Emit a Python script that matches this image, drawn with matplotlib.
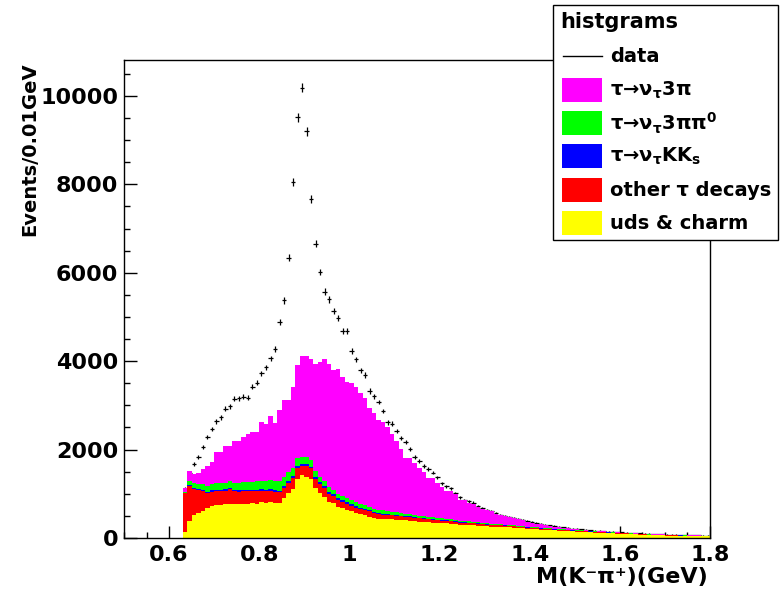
import numpy as np
import matplotlib
matplotlib.use("Agg")
import matplotlib.pyplot as plt
from matplotlib.patches import Rectangle
from matplotlib.lines import Line2D
from matplotlib.ticker import MultipleLocator, FuncFormatter

# bins of 0.01 GeV starting at 0.63 GeV (one row = 10 bins)
bin_lo = 0.63
bin_w = 0.01

data = [
    1110, 1480, 1674, 1839, 2058, 2278, 2459, 2640, 2730, 2925,
    2979, 3151, 3160, 3196, 3174, 3422, 3513, 3726, 3861, 4065,
    4282, 4879, 5377, 6340, 8060, 9516, 10186, 9199, 7661, 6657,
    6017, 5572, 5400, 5142, 4970, 4690, 4690, 4237, 4042, 3793,
    3687, 3325, 3205, 3076, 2873, 2617, 2585, 2420, 2262, 2165,
    2013, 1832, 1749, 1629, 1561, 1478, 1373, 1237, 1170, 1124,
    1020, 921, 860, 830, 800, 724, 680, 640, 611, 570,
    530, 500, 482, 455, 430, 400, 380, 355, 338, 320,
    300, 288, 270, 255, 242, 225, 214, 204, 194, 183,
    174, 168, 162, 155, 147, 140, 132, 125, 119, 113,
    108, 103, 98, 93, 89, 85, 82, 79, 76, 73,
    70, 67, 64, 61, 58, 55, 52,
]

uds_charm = [
    140, 390, 510, 560, 610, 680, 720, 740, 750, 760,
    780, 770, 760, 780, 780, 790, 780, 810, 800, 820,
    800, 800, 900, 1010, 1100, 1330, 1425, 1390, 1330, 1120,
    1010, 935, 820, 785, 710, 670, 635, 600, 560, 535,
    520, 485, 450, 430, 430, 420, 420, 410, 405, 400,
    395, 380, 370, 365, 360, 350, 340, 335, 330, 320,
    315, 300, 295, 290, 285, 280, 270, 265, 260, 255,
    250, 245, 240, 235, 225, 215, 210, 205, 198, 190,
    183, 176, 170, 165, 160, 155, 150, 145, 140, 135,
    128, 124, 120, 115, 110, 106, 100, 95, 90, 85,
    80, 75, 70, 66, 63, 60, 57, 54, 52, 50,
    48, 46, 44, 42, 40, 39, 38,
]

other_tau = [
    870, 790, 590, 520, 450, 330, 330, 320, 310, 310,
    320, 290, 290, 280, 280, 270, 280, 260, 260, 245,
    245, 230, 235, 240, 250, 260, 205, 250, 245, 225,
    210, 195, 180, 170, 160, 150, 145, 135, 130, 125,
    120, 115, 110, 105, 100, 95, 90, 88, 85, 80,
    78, 75, 72, 70, 68, 65, 62, 60, 57, 55,
    52, 50, 48, 46, 44, 42, 40, 38, 36, 35,
    33, 32, 30, 29, 28, 27, 26, 25, 24, 23,
    22, 21, 20, 19, 19, 18, 18, 17, 17, 16,
    16, 15, 15, 14, 14, 13, 13, 12, 12, 12,
    11, 11, 11, 10, 10, 10, 9, 9, 9, 8,
    8, 8, 8, 7, 7, 7, 7,
]

tau_kks = [
    10, 30, 35, 35, 35, 35, 35, 35, 35, 35,
    35, 35, 35, 35, 35, 35, 35, 35, 35, 38,
    38, 40, 40, 40, 42, 45, 45, 45, 42, 40,
    38, 36, 34, 32, 30, 29, 28, 27, 26, 25,
    24, 23, 22, 21, 20, 19, 18, 17, 16, 15,
    15, 14, 14, 13, 13, 12, 12, 11, 11, 10,
    10, 10, 9, 9, 9, 8, 8, 8, 8, 7,
    7, 7, 7, 6, 6, 6, 6, 6, 5, 5,
    5, 5, 5, 5, 4, 4, 4, 4, 4, 4,
    4, 3, 3, 3, 3, 3, 3, 3, 3, 3,
    3, 2, 2, 2, 2, 2, 2, 2, 2, 2,
    2, 2, 1, 1, 1, 1, 1,
]

tau_3pipi0 = [
    20, 90, 110, 115, 120, 130, 135, 140, 145, 150,
    155, 160, 165, 170, 175, 180, 185, 190, 195, 200,
    205, 210, 205, 195, 185, 170, 150, 150, 140, 130,
    125, 120, 113, 110, 105, 100, 98, 95, 93, 90,
    88, 85, 82, 80, 76, 72, 68, 65, 62, 58,
    55, 52, 50, 48, 45, 43, 41, 39, 37, 35,
    33, 32, 30, 29, 28, 27, 26, 25, 24, 23,
    22, 21, 20, 19, 18, 17, 16, 15, 14, 14,
    13, 13, 12, 12, 11, 11, 10, 10, 9, 9,
    8, 8, 8, 7, 7, 7, 6, 6, 6, 5,
    5, 5, 5, 4, 4, 4, 4, 4, 3, 3,
    3, 3, 3, 3, 2, 2, 2,
]

tau_3pi = [
    84, 216, 203, 248, 353, 454, 499, 710, 705, 819,
    784, 932, 937, 1027, 1075, 1123, 1118, 1322, 1295, 1463,
    1320, 1615, 1742, 1637, 1831, 2108, 2298, 2288, 2285, 2428,
    2598, 2770, 2782, 2703, 2811, 2693, 2630, 2642, 2599, 2498,
    2408, 2226, 2157, 2033, 1991, 1912, 1749, 1614, 1445, 1263,
    1259, 1183, 1085, 1004, 864, 880, 782, 716, 636, 651,
    585, 468, 478, 426, 404, 353, 316, 297, 272, 220,
    208, 185, 171, 156, 143, 135, 112, 89, 84, 78,
    67, 64, 53, 44, 41, 27, 23, 20, 15, 11,
    12, 13, 12, 11, 9, 7, 6, 5, 5, 5,
    6, 7, 7, 8, 7, 7, 8, 9, 9, 9,
    7, 7, 7, 7, 7, 5, 4,
]

legend_labels = [
    "τ→ν$_τ$3π",
    "τ→ν$_τ$3ππ$^0$",
    "τ→ν$_τ$KK$_s$",
    "other τ decays",
    "uds & charm",
]

plt.rcParams["font.family"] = "DejaVu Sans"
plt.rcParams["font.weight"] = "bold"
plt.rcParams["mathtext.default"] = "regular"

W, H = 780, 592
fig = plt.figure(figsize=(W / 100, H / 100), dpi=100)
ax = fig.add_axes([124 / W, 1 - 538 / H, (710 - 124) / W, (538 - 60) / H])

n = len(data)
edges = bin_lo + bin_w * np.arange(n + 1)
centers = edges[:-1] + bin_w / 2
data = np.array(data, dtype=float)

# data drawn first, the MC stack goes on top (like "same" in ROOT)
ax.errorbar(centers, data, xerr=bin_w / 2, yerr=np.sqrt(data), fmt="none",
            ecolor="black", elinewidth=0.9, capsize=0, zorder=1)

stack = [(uds_charm, "#ffff00"), (other_tau, "#ff0000"), (tau_kks, "#0000ff"),
         (tau_3pipi0, "#00ff00"), (tau_3pi, "#ff00ff")]
base = np.zeros(n)
for vals, col in stack:
    top = base + np.array(vals, dtype=float)
    ax.stairs(top, edges, baseline=base, fill=True, color=col, lw=0, zorder=2)
    base = top

ax.set_xlim(0.5, 1.8)
ax.set_ylim(0, 10814)
ax.xaxis.set_major_locator(MultipleLocator(0.2))
ax.xaxis.set_minor_locator(MultipleLocator(0.05))
ax.yaxis.set_major_locator(MultipleLocator(2000))
ax.yaxis.set_minor_locator(MultipleLocator(500))
ax.xaxis.set_major_formatter(FuncFormatter(lambda v, p: f"{v:g}"))
ax.yaxis.set_major_formatter(FuncFormatter(lambda v, p: f"{v:.0f}"))
ax.tick_params(which="both", direction="in", top=False, right=False, width=1, labelsize=16)
ax.tick_params(which="major", length=9)
ax.tick_params(which="minor", length=4.5)
ax.tick_params(axis="y", pad=4)
ax.tick_params(axis="x", pad=5)
for s in ax.spines.values():
    s.set_linewidth(1)

fig.text(30 / W, 1 - 62 / H, "Events/0.01GeV", rotation=90, ha="center", va="top", fontsize=14)
fig.text(708 / W, 1 - 577 / H, "M(K⁻π⁺)(GeV)", ha="right", va="center", fontsize=16)

# legend box, drawn by hand in figure pixels
def fx(x):
    return x / W

def fy(y):
    return 1 - y / H

fig.add_artist(Rectangle((fx(553), fy(240)), (778 - 553) / W, (240 - 5) / H,
                         transform=fig.transFigure, facecolor="white",
                         edgecolor="black", lw=1, zorder=5))
fig.text(fx(560), fy(22), "histgrams", va="center", fontsize=15, zorder=6)
fig.add_artist(Line2D([fx(563), fx(602)], [fy(56), fy(56)], transform=fig.transFigure,
                      color="black", lw=1, zorder=6))
fig.text(fx(610), fy(56), "data", va="center", fontsize=14, zorder=6)
row_y = [90, 123, 156, 190, 223]
colors = ["#ff00ff", "#00ff00", "#0000ff", "#ff0000", "#ffff00"]
for yc, col, lab in zip(row_y, colors, legend_labels):
    fig.add_artist(Rectangle((fx(562), fy(yc + 12)), 40 / W, 24 / H,
                             transform=fig.transFigure, facecolor=col,
                             edgecolor="none", zorder=6))
    fig.text(fx(610), fy(yc), lab, va="center", fontsize=14, zorder=7)

fig.savefig("out.png", dpi=100)
